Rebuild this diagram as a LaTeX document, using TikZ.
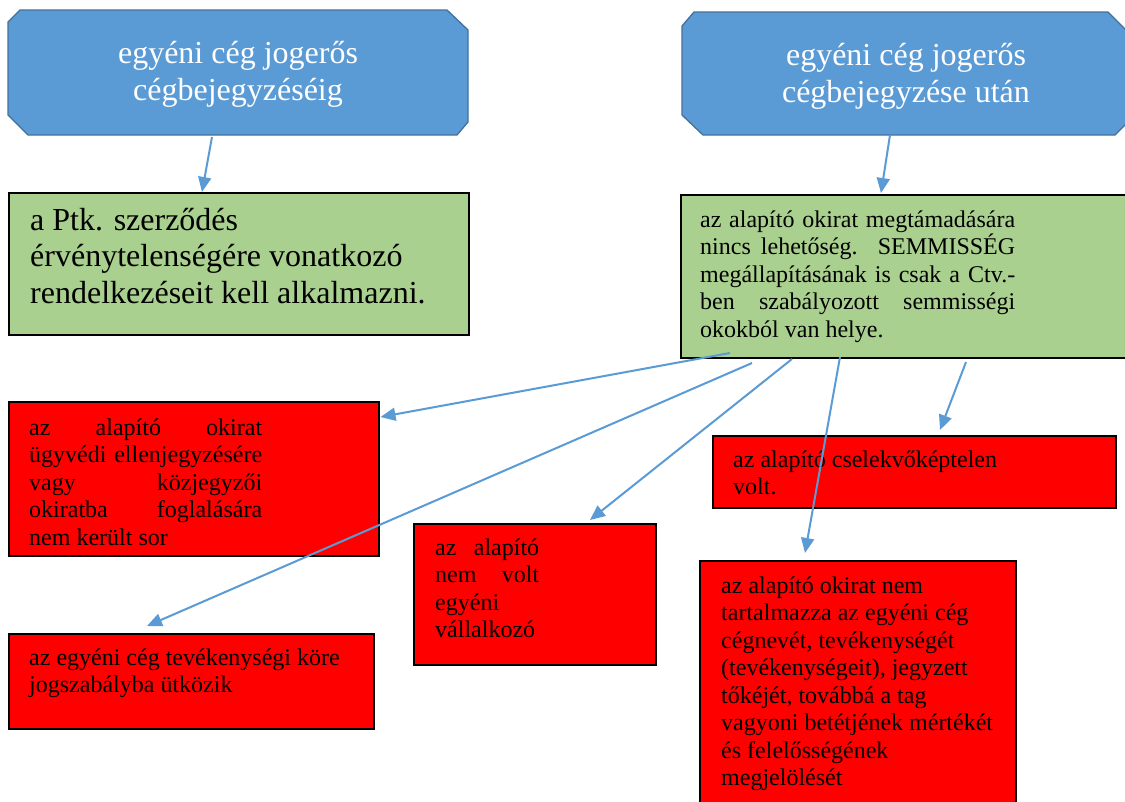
\documentclass[tikz,border=0pt]{standalone}
\usepackage{fontspec}
\setmainfont{Liberation Serif}
\usetikzlibrary{arrows.meta,calc}
\definecolor{bfill}{HTML}{5B9BD5}
\definecolor{bline}{HTML}{41719C}
\definecolor{gfill}{HTML}{A9D08E}
\definecolor{rfill}{HTML}{FF0000}
\definecolor{arr}{HTML}{5B9BD5}
\newcommand{\jtext}[2]{\parbox[t]{#1}{\tolerance=10000\hyphenpenalty=10000\emergencystretch=100pt #2}}
\newcommand{\rtext}[2]{\parbox[t]{#1}{\raggedright\hyphenpenalty=10000 #2}}
\begin{document}
\begin{tikzpicture}[x=1pt,y=-1pt,
  bluebox/.style={fill=bfill,draw=bline,line width=1.3pt},
  box/.style={draw=black,line width=1.5pt,inner sep=0pt,anchor=north west},
  greenbox/.style={box,fill=gfill},
  redbox/.style={box,fill=rfill},
  txt/.style={anchor=base west,inner sep=0pt,font=\fontsize{24}{27.5}\selectfont},
  bigtxt/.style={anchor=base west,inner sep=0pt,font=\fontsize{32}{36.8}\selectfont},
  bluetxt/.style={anchor=base,inner sep=0pt,text=white,font=\fontsize{32}{37}\selectfont},
  conn/.style={draw=arr,line width=2pt,-{Triangle[length=15pt,width=13pt]}}]
\useasboundingbox (0,0) rectangle (1125,801);
\fill[white] (0,0) rectangle (1125,801);

% blue header shapes
\draw[bluebox] (20,10) -- (447,10) -- (468,30) -- (468,122) -- (457,135) -- (28,135) -- (8,115) -- (8,22) -- cycle;
\draw[bluebox] (694,12) -- (1108,12) -- (1128,32) -- (1128,122) -- (1115,135) -- (703,135) -- (682,115) -- (682,26) -- cycle;
\node[bluetxt] (h1) at (238,63) {\parbox[t]{420pt}{\centering egyéni cég jogerős\\cégbejegyzéséig}};
\node[bluetxt] (h2) at (906,65) {\parbox[t]{420pt}{\centering egyéni cég jogerős\\cégbejegyzése után}};

% green boxes
\node[greenbox,minimum width=460,minimum height=142] (g1) at (8,192) {};
\node[bigtxt] (gt1) at (30,230) {\rtext{440pt}{a Ptk. szerződés\\érvénytelenségére vonatkozó\\rendelkezéseit kell alkalmazni.}};

\node[greenbox,minimum width=452,minimum height=163] (g2) at (680,194) {};
\node[txt] (gt2) at (700,227) {\jtext{315pt}{az alapító okirat megtámadására\linebreak nincs lehetőség.\ \ SEMMISSÉG\linebreak megállapításának is csak a Ctv.-\linebreak ben szabályozott semmisségi\linebreak okokból van helye.}};

% red boxes
\node[redbox,minimum width=370,minimum height=154] (r1) at (8,401) {};
\node[txt] (rt1) at (29,435) {\jtext{233pt}{az alapító okirat\linebreak ügyvédi ellenjegyzésére\linebreak vagy közjegyzői\linebreak okiratba foglalására\linebreak nem került sor}};

\node[redbox,minimum width=242,minimum height=141] (r2) at (413,523) {};
\node[txt] (rt2) at (435,555) {\jtext{104pt}{az alapító\linebreak nem volt\linebreak egyéni\hfill\null\linebreak vállalkozó}};

\node[redbox,minimum width=403,minimum height=72] (r3) at (712,435) {};
\node[txt] (rt3) at (733,467) {\rtext{370pt}{az alapító cselekvőképtelen\\volt.}};

\node[redbox,minimum width=316,minimum height=270] (r4) at (699,560) {};
\node[txt] (rt4) at (721,593) {\rtext{290pt}{az alapító okirat nem\\tartalmazza az egyéni cég\\cégnevét, tevékenységét\\(tevékenységeit), jegyzett\\tőkéjét, továbbá a tag\\vagyoni betétjének mértékét\\és felelősségének\\megjelölését}};

\node[redbox,minimum width=365,minimum height=95] (r5) at (8,633) {};
\node[txt] (rt5) at (29,665) {\rtext{340pt}{az egyéni cég tevékenységi köre\\jogszabályba ütközik}};

% connector end points
\coordinate (s0) at ($(g1.north west)+(204,-55)$);
\coordinate (e0) at ($(g1.north west)+(194,0)$);
\coordinate (s00) at ($(g2.north west)+(210,-59)$);
\coordinate (e00) at ($(g2.north west)+(201,-1)$);
\coordinate (s1) at (730,353);
\coordinate (s2) at (752,363);
\coordinate (s3) at (792,359);
\coordinate (s4) at (840,357);
\coordinate (s5) at (966,362);
\coordinate (e1) at ($(r1.north east)+(1,16)$);
\coordinate (e2) at ($(r5.north west)+(139,-7)$);
\coordinate (e3) at ($(r2.north west)+(177,-3)$);
\coordinate (e4) at ($(r4.north west)+(106,-7)$);
\coordinate (e5) at ($(r3.north west)+(228,-5)$);

\draw[conn] (s0) -- (e0);
\draw[conn] (s00) -- (e00);
\draw[conn] (s1) -- (e1);
\draw[conn] (s2) -- (e2);
\draw[conn] (s3) -- (e3);
\draw[conn] (s4) -- (e4);
\draw[conn] (s5) -- (e5);
\end{tikzpicture}
\end{document}
